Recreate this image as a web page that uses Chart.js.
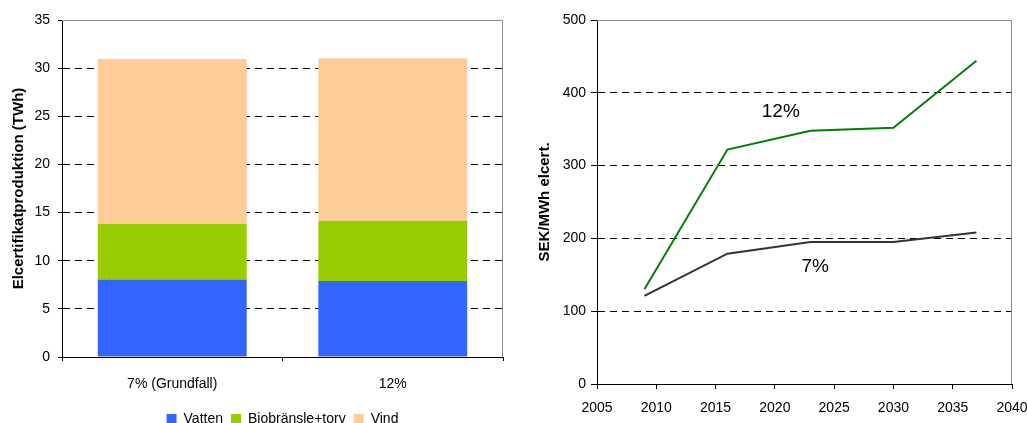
<!DOCTYPE html>
<html>
<head>
<meta charset="utf-8">
<script src="https://cdn.jsdelivr.net/npm/chart.js@4"></script>
<style>
  html, body { margin: 0; padding: 0; background: #fff; overflow: hidden; }
  #wrap { position: relative; width: 1027px; height: 423px; overflow: hidden; }
  #prodChart { position: absolute; left: 0; top: 0; }
  #priceChart { position: absolute; left: 520px; top: 0; }
</style>
</head>
<body>
<div id="wrap">
  <canvas id="prodChart" width="520" height="436"></canvas>
  <canvas id="priceChart" width="507" height="423"></canvas>
</div>
<script>
// left chart: certificate production per scenario (TWh)
const scenarios = ["7% (Grundfall)", "12%"];
const vatten = [8.05, 7.9];
const biobransle = [5.8, 6.25];
const vind = [17.1, 16.85];

// right chart: certificate price (SEK/MWh)
const years = [2009, 2016, 2023, 2030, 2037];
const price12 = [130, 322, 348, 352, 444];
const price7 = [121, 179, 195, 195, 208];

// text labels next to the curves
const curveNames = ["12%", "7%"];
const curveNameYears = [2020.5, 2023.4];
const curveNameValues = [374, 161];

Chart.defaults.font.family = "'Liberation Sans', Arial, sans-serif";
Chart.defaults.color = "#000";

// gray frame on top and right of the plot area
const frame = {
  id: "frame",
  beforeDatasetsDraw(chart) {
    const { ctx, chartArea: a } = chart;
    ctx.save();
    ctx.strokeStyle = "#8c8c8c";
    ctx.lineWidth = 1;
    ctx.beginPath();
    ctx.moveTo(a.left, a.top + 0.5);
    ctx.lineTo(a.right - 0.5, a.top + 0.5);
    ctx.lineTo(a.right - 0.5, a.bottom);
    ctx.stroke();
    ctx.restore();
  },
};

const gridColor = (max) => (c) =>
  c.tick && (c.tick.value === 0 || c.tick.value === max) ? "rgba(0,0,0,0)" : "#000";

const noSidePadding = (height) => (s) => {
  s.height = height;
  s.paddingLeft = 0;
  s.paddingRight = 0;
};

new Chart(document.getElementById("prodChart"), {
  type: "bar",
  data: {
    labels: scenarios,
    datasets: [
      { label: "Vatten", data: vatten, backgroundColor: "#3366ff" },
      { label: "Biobränsle+torv", data: biobransle, backgroundColor: "#99cc00" },
      { label: "Vind", data: vind, backgroundColor: "#ffcc99" },
    ],
  },
  options: {
    responsive: false,
    animation: false,
    devicePixelRatio: 1,
    layout: { padding: { top: 20, right: 17, left: 0, bottom: 0 } },
    datasets: { bar: { barPercentage: 0.675, categoryPercentage: 1 } },
    plugins: {
      legend: {
        position: "bottom",
        fullSize: false,
        labels: { boxWidth: 10, boxHeight: 10, padding: 8, font: { size: 14 }, color: "#000" },
      },
      tooltip: { enabled: false },
    },
    scales: {
      x: {
        stacked: true,
        grid: { drawOnChartArea: false, tickLength: 4, tickColor: "#000", offset: true },
        border: { color: "#000", width: 1 },
        ticks: { padding: 15, font: { size: 14 }, maxRotation: 0 },
        afterFit: noSidePadding(47),
      },
      y: {
        stacked: true,
        min: 0,
        max: 35,
        ticks: { stepSize: 5, padding: 8, font: { size: 14 } },
        grid: { color: gridColor(35), tickLength: 4, tickColor: "#000", tickBorderDash: [] },
        border: { color: "#000", width: 1, dash: [7, 5] },
        title: {
          display: true,
          text: "Elcertifikatproduktion (TWh)",
          font: { size: 15, weight: "bold" },
          padding: { top: 10, bottom: 0 },
        },
        afterFit: (s) => { s.width = 62; },
      },
    },
  },
  plugins: [frame],
});

// curve name text drawn at data coordinates
const curveText = {
  id: "curveText",
  afterDatasetsDraw(chart) {
    const { ctx, scales } = chart;
    ctx.save();
    ctx.font = "19px 'Liberation Sans', Arial, sans-serif";
    ctx.fillStyle = "#000";
    ctx.textAlign = "center";
    ctx.textBaseline = "middle";
    curveNames.forEach((t, i) => {
      ctx.fillText(t, scales.x.getPixelForValue(curveNameYears[i]), scales.y.getPixelForValue(curveNameValues[i]));
    });
    ctx.restore();
  },
};

new Chart(document.getElementById("priceChart"), {
  type: "line",
  data: {
    datasets: [
      {
        label: "12%",
        data: years.map((y, i) => ({ x: y, y: price12[i] })),
        borderColor: "#008000",
        borderWidth: 2,
        pointRadius: 0,
        tension: 0,
      },
      {
        label: "7%",
        data: years.map((y, i) => ({ x: y, y: price7[i] })),
        borderColor: "#333333",
        borderWidth: 2,
        pointRadius: 0,
        tension: 0,
      },
    ],
  },
  options: {
    responsive: false,
    animation: false,
    devicePixelRatio: 1,
    layout: { padding: { top: 20, right: 15, left: 0, bottom: 0 } },
    plugins: { legend: { display: false }, tooltip: { enabled: false } },
    scales: {
      x: {
        type: "linear",
        min: 2005,
        max: 2040,
        ticks: { stepSize: 5, padding: 11, font: { size: 14 }, maxRotation: 0, callback: (v) => String(v) },
        grid: { drawOnChartArea: false, tickLength: 5, tickColor: "#000" },
        border: { color: "#000", width: 1 },
        afterFit: noSidePadding(39),
      },
      y: {
        min: 0,
        max: 500,
        ticks: { stepSize: 100, padding: 5, font: { size: 14 } },
        grid: { color: gridColor(500), tickLength: 6, tickColor: "#000", tickBorderDash: [] },
        border: { color: "#000", width: 1, dash: [7, 5] },
        title: {
          display: true,
          text: "SEK/MWh elcert.",
          font: { size: 15, weight: "bold" },
          padding: { top: 16, bottom: 0 },
        },
        afterFit: (s) => { s.width = 77; },
      },
    },
  },
  plugins: [frame, curveText],
});
</script>
</body>
</html>
